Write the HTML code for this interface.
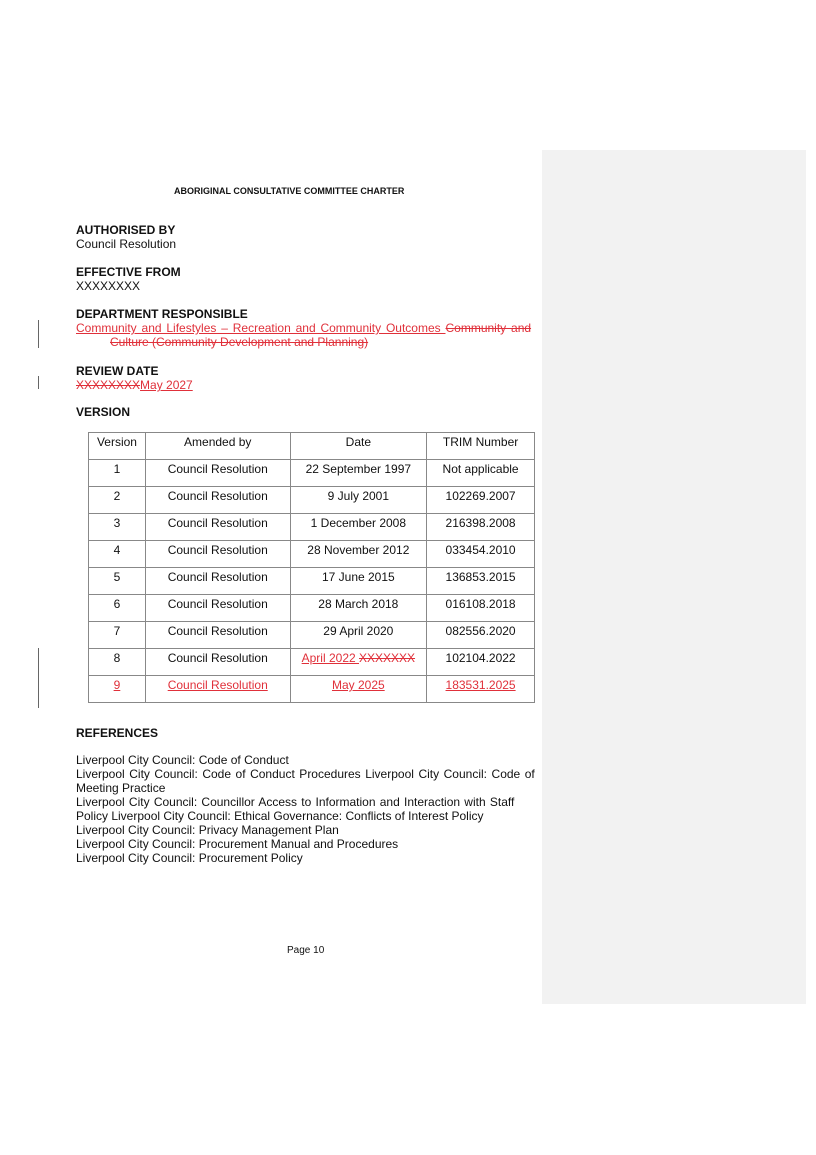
<!DOCTYPE html>
<html><head><style>
body{margin:0;width:816px;height:1155px;background:#fff;position:relative;font-family:"Liberation Sans",Arial,sans-serif;color:#111;overflow:hidden}
.a{position:absolute;white-space:nowrap;font-size:12px;line-height:14px}
.b{font-weight:bold}
.r{color:#e0303a;text-decoration:underline}
.s{color:#e0303a;text-decoration:line-through}
.bar{position:absolute;left:38px;width:1px;background:#666}
table{position:absolute;left:88px;top:432px;width:447px;border-collapse:collapse;font-size:12px}
td{border:1px solid #888;height:27px;padding:0;text-align:center;vertical-align:top;padding-top:2px;box-sizing:border-box}
</style></head><body>
<div style="position:absolute;left:542px;top:150px;width:264px;height:854px;background:#f2f2f2"></div>
<div class="a b" style="left:174px;top:184px;font-size:9px">ABORIGINAL CONSULTATIVE COMMITTEE CHARTER</div>
<div class="a b" style="left:76px;top:223px">AUTHORISED BY</div>
<div class="a" style="left:76px;top:237px">Council Resolution</div>
<div class="a b" style="left:76px;top:265px">EFFECTIVE FROM</div>
<div class="a" style="left:76px;top:279px">XXXXXXXX</div>
<div class="a b" style="left:76px;top:307px">DEPARTMENT RESPONSIBLE</div>
<div class="a" style="left:76px;top:321px;word-spacing:1.5px"><span class="r">Community and Lifestyles – Recreation and Community Outcomes </span><span class="s">Community and</span></div>
<div class="a s" style="left:110px;top:335px">Culture (Community Development and Planning)</div>
<div class="bar" style="top:320px;height:28px"></div>
<div class="a b" style="left:76px;top:364px">REVIEW DATE</div>
<div class="a" style="left:76px;top:378px"><span class="s">XXXXXXXX</span><span class="r">May 2027</span></div>
<div class="bar" style="top:376px;height:13px"></div>
<div class="a b" style="left:76px;top:405px">VERSION</div>
<table>
<colgroup><col style="width:57px"><col style="width:145px"><col style="width:137px"><col style="width:108px"></colgroup>
<tr><td>Version</td><td>Amended by</td><td>Date</td><td>TRIM Number</td></tr>
<tr><td>1</td><td>Council Resolution</td><td>22 September 1997</td><td>Not applicable</td></tr>
<tr><td>2</td><td>Council Resolution</td><td>9 July 2001</td><td>102269.2007</td></tr>
<tr><td>3</td><td>Council Resolution</td><td>1 December 2008</td><td>216398.2008</td></tr>
<tr><td>4</td><td>Council Resolution</td><td>28 November 2012</td><td>033454.2010</td></tr>
<tr><td>5</td><td>Council Resolution</td><td>17 June 2015</td><td>136853.2015</td></tr>
<tr><td>6</td><td>Council Resolution</td><td>28 March 2018</td><td>016108.2018</td></tr>
<tr><td>7</td><td>Council Resolution</td><td>29 April 2020</td><td>082556.2020</td></tr>
<tr><td>8</td><td>Council Resolution</td><td><span class="r">April 2022 </span><span class="s">XXXXXXX</span></td><td>102104.2022</td></tr>
<tr><td class="r">9</td><td class="r">Council Resolution</td><td class="r">May 2025</td><td class="r">183531.2025</td></tr>
</table>
<div class="bar" style="top:648px;height:60px"></div>
<div class="a b" style="left:76px;top:726px">REFERENCES</div>
<div class="a" style="left:76px;top:753px">Liverpool City Council: Code of Conduct</div>
<div class="a" style="left:76px;top:767px;word-spacing:1.2px">Liverpool City Council: Code of Conduct Procedures Liverpool City Council: Code of</div>
<div class="a" style="left:76px;top:781px">Meeting Practice</div>
<div class="a" style="left:76px;top:795px;word-spacing:0.9px">Liverpool City Council: Councillor Access to Information and Interaction with Staff</div>
<div class="a" style="left:76px;top:809px">Policy Liverpool City Council: Ethical Governance: Conflicts of Interest Policy</div>
<div class="a" style="left:76px;top:823px">Liverpool City Council: Privacy Management Plan</div>
<div class="a" style="left:76px;top:837px">Liverpool City Council: Procurement Manual and Procedures</div>
<div class="a" style="left:76px;top:851px">Liverpool City Council: Procurement Policy</div>
<div class="a" style="left:287px;top:944px;font-size:10px">Page 10</div>
</body></html>
